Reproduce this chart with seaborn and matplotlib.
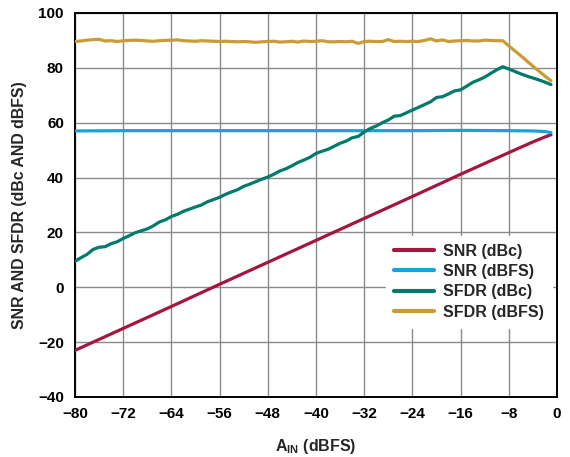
import numpy as np
import pandas as pd
import matplotlib
matplotlib.use("Agg")
import matplotlib.pyplot as plt
import seaborn as sns

# ---- data ----
ain_fine = list(range(-80, 0))  # -80 .. -1 dBFS

sfdr_dbfs = [89.6, 89.8, 90.1, 90.3, 90.4, 89.8, 89.9, 89.6, 89.9, 90.0,
             90.1, 90.0, 89.8, 89.7, 89.9, 90.0, 90.1, 90.2, 89.9, 89.8,
             89.7, 89.9, 89.8, 89.7, 89.6, 89.7, 89.6, 89.5, 89.6, 89.5,
             89.3, 89.5, 89.6, 89.7, 89.4, 89.5, 89.7, 89.4, 89.8, 89.6,
             89.7, 89.9, 89.5, 89.5, 89.6, 89.5, 89.7, 88.9, 89.6, 89.7,
             89.6, 89.6, 90.3, 89.6, 89.7, 89.6, 89.7, 89.6, 90.0, 90.6,
             89.8, 90.2, 89.6, 89.8, 89.9, 90.0, 89.8, 89.8, 90.1, 90.0,
             89.9, 89.9, 88.0, 86.2, 84.4, 82.5, 80.6, 78.8, 77.0, 75.3]

sfdr_dbc = [9.5, 10.8, 12.0, 13.8, 14.6, 14.8, 15.9, 16.6, 17.8, 18.8,
            19.9, 20.6, 21.3, 22.4, 23.8, 24.6, 25.8, 26.6, 27.7, 28.5,
            29.3, 30.0, 31.2, 32.0, 32.8, 33.9, 34.8, 35.6, 36.8, 37.6,
            38.5, 39.4, 40.2, 41.2, 42.4, 43.2, 44.3, 45.5, 46.4, 47.4,
            48.8, 49.6, 50.3, 51.4, 52.5, 53.3, 54.5, 55.0, 56.6, 57.9,
            58.8, 60.0, 61.0, 62.4, 62.6, 63.6, 64.6, 65.6, 66.6, 67.6,
            69.2, 69.5, 70.5, 71.6, 72.0, 73.3, 74.7, 75.6, 76.6, 78.0,
            79.3, 80.4, 79.6, 78.7, 77.8, 77.0, 76.3, 75.6, 74.8, 73.9]

ain_coarse = [-80, -72, -64, -56, -48, -40, -32, -24, -16, -8, -4, -2, -1]
snr_dbfs = [57.0, 57.1, 57.1, 57.1, 57.1, 57.1, 57.1, 57.1, 57.2, 57.1, 57.0, 56.8, 56.4]
snr_dbc = [-23.0, -15.0, -7.0, 1.1, 9.1, 17.1, 25.1, 33.1, 41.2, 49.1, 53.0, 54.8, 55.6]

series_names = ["SNR (dBc)", "SNR (dBFS)", "SFDR (dBc)", "SFDR (dBFS)"]
colors = ["#A3173F", "#17A3DA", "#007A6C", "#C99C36"]

x_ticks = [-80, -72, -64, -56, -48, -40, -32, -24, -16, -8, 0]
y_ticks = [-40, -20, 0, 20, 40, 60, 80, 100]

# ---- long-form table ----
df = pd.concat([
    pd.DataFrame({"ain": ain_coarse, "val": snr_dbc, "series": series_names[0]}),
    pd.DataFrame({"ain": ain_coarse, "val": snr_dbfs, "series": series_names[1]}),
    pd.DataFrame({"ain": ain_fine, "val": sfdr_dbc, "series": series_names[2]}),
    pd.DataFrame({"ain": ain_fine, "val": sfdr_dbfs, "series": series_names[3]}),
], ignore_index=True)

sns.set_theme(style="white")
plt.rcParams["font.family"] = ["Liberation Sans", "DejaVu Sans"]
plt.rcParams["font.weight"] = "bold"
plt.rcParams["mathtext.fontset"] = "custom"
plt.rcParams["mathtext.rm"] = "Liberation Sans:bold"
plt.rcParams["mathtext.it"] = "Liberation Sans:bold"
plt.rcParams["mathtext.bf"] = "Liberation Sans:bold"

fig = plt.figure(figsize=(5.7, 4.57), dpi=100)
ax = fig.add_axes([75 / 570, 1 - 397 / 457, (557 - 75) / 570, (397 - 13) / 457])

sns.lineplot(data=df, x="ain", y="val", hue="series", hue_order=series_names,
             palette=dict(zip(series_names, colors)), linewidth=2.3,
             sort=True, estimator=None, ax=ax, zorder=3)

ax.set_xlim(-80, 0)
ax.set_ylim(-40, 100)
ax.set_xticks(x_ticks)
ax.set_yticks(y_ticks)
ax.grid(True, color="#8a8a8a", linewidth=1.0)
ax.set_axisbelow(True)
for s in ax.spines.values():
    s.set_color("black")
    s.set_linewidth(1.4)
ax.tick_params(axis="y", labelsize=11, length=0, pad=8, colors="black")
ax.tick_params(axis="x", labelsize=11, length=0, pad=7, colors="black")
for lab in ax.get_xticklabels() + ax.get_yticklabels():
    lab.set_fontweight("bold")

ax.set_xlabel(r"$\mathrm{A_{IN}}$ (dBFS)", fontsize=11.5, fontweight="bold", labelpad=12)
ax.set_ylabel("SNR AND SFDR (dBc AND dBFS)", fontsize=11.4, fontweight="bold", labelpad=8)

leg = ax.legend(loc="upper left", bbox_to_anchor=(0.645, 0.42), frameon=True,
                fontsize=11.5, handlelength=2.5, handletextpad=0.6,
                labelspacing=0.33, borderpad=0.5, fancybox=False,
                borderaxespad=0.0)
leg.get_frame().set_facecolor("white")
leg.get_frame().set_edgecolor("white")
leg.get_frame().set_alpha(1.0)
leg.set_zorder(5)
for t in leg.get_texts():
    t.set_fontweight("bold")
for h in leg.get_lines():
    h.set_linewidth(3.0)

fig.savefig("out.png", dpi=100)
